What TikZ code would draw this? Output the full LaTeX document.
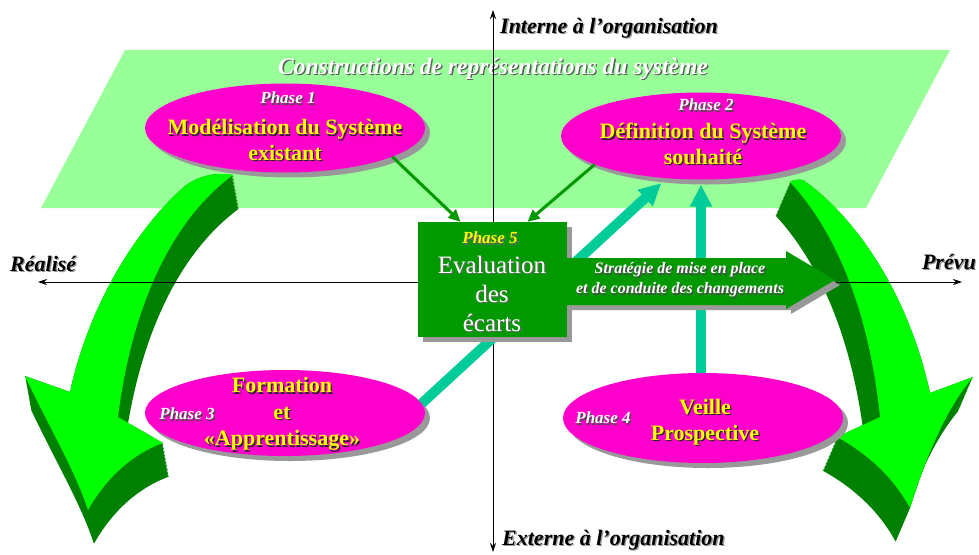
\documentclass[tikz,border=0pt]{standalone}
\usepackage{fontspec}
\setmainfont{Liberation Serif}
\usetikzlibrary{arrows.meta,shapes.geometric,shadows,calc}

\definecolor{plane}{HTML}{99FF99}
\definecolor{lime}{HTML}{00FF00}
\definecolor{deepgreen}{HTML}{008000}
\definecolor{boxgreen}{HTML}{009900}
\definecolor{aqua}{HTML}{00CC99}
\definecolor{pink}{HTML}{FF00CC}
\definecolor{shadegray}{HTML}{999999}
\definecolor{yel}{HTML}{FFFF00}

% text with a small offset shadow: name, position, style, shadow colour, text
\newcommand\shtext[5]{%
  \node[#3,text=#4,xshift=1.3pt,yshift=-1.3pt] (#1-s) at (#2) {#5};
  \node[#3] (#1) at (#2) {#5};}

% outlines of the two curved 3D arrows
\newcommand\bendL{(185,186) .. controls (140,225) and (90,300) .. (70,392) -- (25,376)
  .. controls (48,425) and (75,470) .. (88,510) .. controls (105,480) and (130,455) .. (163,443)
  -- (118,417) .. controls (130,320) and (165,225) .. (233,175)
  .. controls (215,172) and (198,176) .. (185,186) -- cycle}
\newcommand\bendR{(790,182) .. controls (830,225) and (868,300) .. (880,417) -- (837,437)
  .. controls (870,455) and (895,480) .. (910,508) .. controls (925,460) and (945,410) .. (973,377)
  -- (930,393) .. controls (910,300) and (860,220) .. (803,180)
  .. controls (798,179) and (793,180) .. (790,182) -- cycle}

\tikzset{
  lbl/.style={inner sep=0pt, align=center},
  hb/.style={lbl, font=\fontsize{22}{25.5}\selectfont\bfseries, text=yel},
  ph/.style={lbl, font=\fontsize{17}{19}\selectfont\bfseries\itshape, text=white},
  ax/.style={lbl, font=\fontsize{22}{24}\selectfont\bfseries\itshape, text=black},
  ttl/.style={lbl, font=\fontsize{23.5}{26}\selectfont\bfseries\itshape, text=white},
  st/.style={lbl, font=\fontsize{16}{20}\selectfont\bfseries\itshape, text=white},
  ev/.style={lbl, font=\fontsize{25}{29}\selectfont, text=white},
  shad/.style={drop shadow={shadow xshift=5pt, shadow yshift=-5pt, fill=shadegray, opacity=1}},
  phase/.style={ellipse, fill=pink, inner sep=0pt, minimum width=280pt, minimum height=89pt, shad},
  evalbox/.style={rectangle, fill=boxgreen, inner sep=0pt, minimum width=149pt, minimum height=115pt, shad},
  strat/.style={fill=boxgreen, shad},
  axis/.style={line width=0.9pt, {Stealth[length=9pt,width=6pt]}-{Stealth[length=9pt,width=6pt]}},
  aquaarrow/.style={draw=aqua, line width=10pt, -{Triangle[length=22pt,width=21pt]}},
  thinarrow/.style={draw=boxgreen, line width=3pt, -{Triangle[length=12pt,width=11pt]}},
}

\begin{document}
\begin{tikzpicture}[x=1pt,y=-1pt]
\useasboundingbox (0,0) rectangle (979,554);

% plane of the system representations
\fill[plane] (125,50) -- (950,50) -- (866,208) -- (41,208) -- cycle;
\shtext{title}{493,69}{ttl}{black!65}{Constructions de représentations du système}

% curved 3D arrows
\foreach \k in {0,...,24} {\fill[deepgreen, shift={(0.25*\k,1.4*\k)}] \bendL;}
\fill[lime] \bendL;
\foreach \k in {0,...,24} {\fill[deepgreen, shift={(-0.6*\k,1.4*\k)}] \bendR;}
\fill[lime] \bendR;

% phases
\node[phase] (p1) at (285,128) {};
\node[phase, minimum height=87pt] (p2) at (701,136) {};
\node[phase, minimum height=86pt] (p3) at (285,413) {};
\node[phase, minimum height=90pt] (p4) at (703,418) {};

% axes
\coordinate (top) at (493,10);
\coordinate (bot) at (493,552);
\coordinate (lft) at (38,282);
\coordinate (rgt) at (962,282);
\draw[axis] (bot) -- (top);
\draw[axis] (lft) -- (rgt);

% links between phases
\draw[aquaarrow] (p3.4) -- ($(p2.229)+(-3,5)$);
\draw[aquaarrow] ($(p4.north)+(-2,0)$) -- ($(p2.south)+(0,5)$);

% evaluation box
\node[evalbox] (p5) at (492.5,279.5) {};
\draw[thinarrow] (p1.-15) -- ($(p5.north)+(-32,0)$);
\draw[thinarrow] (p2.195) -- ($(p5.north)+(35,0)$);

% strategy arrow
\path[strat] (567,258) -- (786,258) -- (786,251) -- (835,280) -- (786,309) -- (786,305) -- (567,305) -- cycle;

% texts
\shtext{ph1}{288,98}{ph}{black!70}{Phase 1}
\shtext{t1}{285,140}{hb}{black!85}{Modélisation du Système\\existant}
\shtext{ph2}{706,105}{ph}{black!70}{Phase 2}
\shtext{t2}{703,144}{hb}{black!85}{Définition du Système\\souhaité}
\shtext{ph3}{187,414}{ph}{black!70}{Phase 3}
\shtext{t3}{282,414}{hb, font=\fontsize{22}{26.5}\selectfont\bfseries}{black!85}{Formation\\et\\«Apprentissage»}
\shtext{ph4}{603,418}{ph}{black!70}{Phase 4}
\shtext{t4}{705,422}{hb, font=\fontsize{22}{26}\selectfont\bfseries}{black!85}{Veille\\Prospective}
\shtext{ph5}{490,238}{ph, text=yel}{black!60}{Phase 5}
\shtext{ev}{492,294}{ev}{black!60}{Evaluation\\des\\écarts}
\shtext{stext}{680,280}{st}{black!70}{Stratégie de mise en place\\et de conduite des changements}

\shtext{interne}{500,28}{ax, anchor=west}{shadegray}{Interne à l’organisation}
\shtext{externe}{502,540}{ax, anchor=west}{shadegray}{Externe à l’organisation}
\shtext{realise}{10,264}{ax, anchor=west}{shadegray}{Réalisé}
\shtext{prevu}{976,262}{ax, anchor=east}{shadegray}{Prévu}
\end{tikzpicture}
\end{document}
